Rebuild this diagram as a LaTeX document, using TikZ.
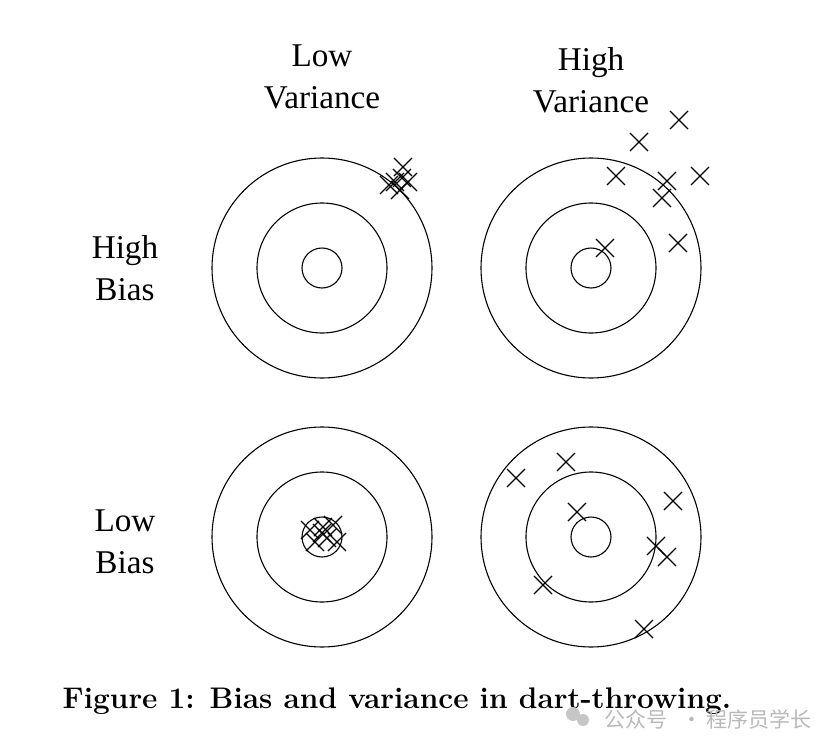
\documentclass[tikz,border=0pt]{standalone}
\usepackage{fontspec}
\newfontfamily\timesf{Liberation Serif}
\newfontfamily\cjk{Noto Sans CJK SC}
\usetikzlibrary{shapes.misc}
\tikzset{
  ring/.style={circle,draw,line width=0.55pt,inner sep=0pt},
  dart/.style={cross out,draw,line width=0.55pt,inner sep=0pt,minimum size=8.5pt},
  lbl/.style={align=center,font=\timesf\fontsize{16.6}{21}\selectfont,inner sep=0pt},
  wmark/.style={font=\cjk\fontsize{10.5}{12}\selectfont,text=gray!55,inner sep=0pt,anchor=base west},
}
\begin{document}
\begin{tikzpicture}[x=0.5pt,y=-0.5pt]
\useasboundingbox (0,0) rectangle (832,750);
% targets
\foreach \n/\cx/\cy in {tl/322/268, tr/591/268, bl/322/537, br/591/537}{
  \node[ring,minimum size=110pt] (\n-outer) at (\cx,\cy) {};
  \node[ring,minimum size=65pt] (\n-mid) at (\cx,\cy) {};
  \node[ring,minimum size=20pt] (\n-inner) at (\cx,\cy) {};
}
% labels
\node[lbl] (lowvar) at (322,77) {Low\\Variance};
\node[lbl] (highvar) at (591,80) {High\\Variance};
\node[lbl] (highbias) at (125,268) {High\\Bias};
\node[lbl] (lowbias) at (125,542) {Low\\Bias};
% high bias, low variance
\foreach \i/\x/\y in {1/403/167, 2/395/182, 3/402/178, 4/408/182, 5/400/190, 6/389/185}{
  \node[dart] (tl-d\i) at (\x,\y) {};
}
% high bias, high variance
\foreach \i/\x/\y in {1/679/120, 2/639/142, 3/616/176, 4/667/181, 5/700/176, 6/662/198, 7/678/243, 8/605/248}{
  \node[dart] (tr-d\i) at (\x,\y) {};
}
% low bias, low variance
\foreach \i/\x/\y in {1/310/530, 2/323/527, 3/333/525, 4/315/542, 5/327/538, 6/337/542, 7/322/533}{
  \node[dart] (bl-d\i) at (\x,\y) {};
}
% low bias, high variance
\foreach \i/\x/\y in {1/566/462, 2/516/478, 3/673/501, 4/577/512, 5/656/546, 6/667/557, 7/543/585, 8/644/629}{
  \node[dart] (br-d\i) at (\x,\y) {};
}
% caption
\node[font=\bfseries\fontsize{14.9}{17}\selectfont,inner sep=0pt] (caption) at (397,701) {Figure 1: Bias and variance in dart-throwing.};
% watermark
\fill[gray!45] (573,714) circle (7);
\fill[gray!45] (583,720) circle (6);
\node[wmark] (wm1) at (604,727) {公众号};
\node[wmark] (wmdot) at (681,727) {·};
\node[wmark] (wm2) at (706,727) {程序员学长};
\end{tikzpicture}
\end{document}
